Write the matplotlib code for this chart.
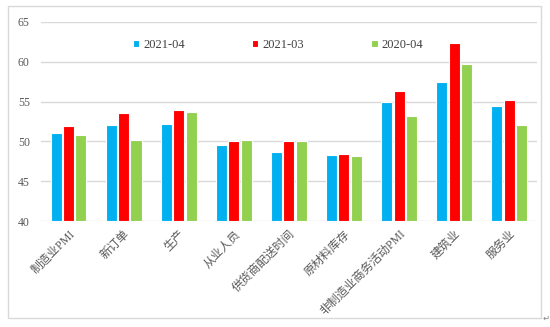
import matplotlib
matplotlib.use("Agg")
import matplotlib.pyplot as plt
import numpy as np
from matplotlib.patches import Rectangle

plt.rcParams['font.family'] = ['Liberation Serif', 'Noto Sans CJK SC', 'DejaVu Sans']

categories = ['制造业PMI', '新订单', '生产', '从业人员', '供货商配送时间',
              '原材料库存', '非制造业商务活动PMI', '建筑业', '服务业']
series_names = ['2021-04', '2021-03', '2020-04']
apr_2021 = [51.1, 52.0, 52.2, 49.6, 48.7, 48.3, 54.9, 57.4, 54.4]
mar_2021 = [51.9, 53.6, 53.9, 50.1, 50.0, 48.4, 56.3, 62.3, 55.2]
apr_2020 = [50.8, 50.2, 53.7, 50.2, 50.1, 48.2, 53.2, 59.7, 52.1]
y_ticks = [40, 45, 50, 55, 60, 65]

colors = ['#00B0F0', '#FF0000', '#92D050']
text_color = '#595959'

fig = plt.figure(figsize=(5.5, 3.27), dpi=100)
ax = fig.add_axes([0.0745, 0.324, 0.9015, 0.609])

x = np.arange(len(categories))
width = 0.2
offsets = [-0.225, 0.0, 0.225]
for vals, name, c, off in zip([apr_2021, mar_2021, apr_2020], series_names, colors, offsets):
    ax.bar(x + off, np.array(vals) - 40, width, bottom=40, color=c,
           edgecolor='white', linewidth=0.8, label=name, zorder=3)

ax.set_xlim(-0.5, len(categories) - 0.5)
ax.set_ylim(40, 65)
ax.set_yticks(y_ticks)
ax.yaxis.grid(True, color='#D9D9D9', linewidth=1, zorder=0)
ax.set_axisbelow(True)
for s in ax.spines.values():
    s.set_visible(False)
ax.tick_params(axis='both', length=0, colors=text_color)
ax.tick_params(axis='y', labelsize=8.5, pad=8)
ax.set_xticks(x)
ax.set_xticklabels(categories, rotation=45, ha='right', rotation_mode='anchor',
                   fontsize=8.5, color=text_color)
ax.tick_params(axis='x', pad=5)

leg = ax.legend(loc='upper center', bbox_to_anchor=(0.478, 0.97), ncol=3, frameon=False,
                fontsize=9, handlelength=0.5, handleheight=0.5, handletextpad=0.3,
                columnspacing=5.4)
for t in leg.get_texts():
    t.set_color('#404040')

# outer frame around the chart
fig.patches.append(Rectangle((8 / 550, 1 - 318 / 327), (541 - 8) / 550, (318 - 6) / 327,
                             transform=fig.transFigure, fill=False,
                             edgecolor='#D9D9D9', linewidth=1))
fig.text(543 / 550, 1 - 318 / 327, '↵', fontsize=6, color='#808080',
         family='DejaVu Sans', va='center')

fig.savefig('out.png', dpi=100)
